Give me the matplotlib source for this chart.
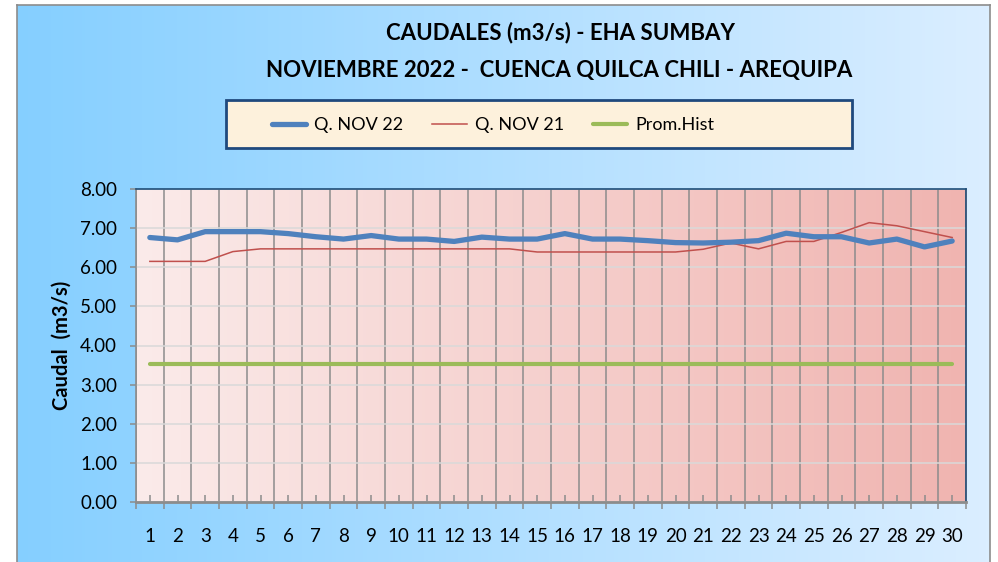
import numpy as np
import matplotlib
matplotlib.use("Agg")
import matplotlib.pyplot as plt
from matplotlib.patches import Rectangle

plt.rcParams['font.family'] = ['Lato', 'DejaVu Sans']

days = list(range(1, 31))
q_nov22 = [6.76, 6.70, 6.91, 6.91, 6.91, 6.86, 6.78, 6.72, 6.81, 6.72,
           6.72, 6.66, 6.77, 6.72, 6.72, 6.86, 6.72, 6.72, 6.68, 6.63,
           6.62, 6.64, 6.68, 6.87, 6.78, 6.78, 6.62, 6.72, 6.52, 6.67]
q_nov21 = [6.15, 6.15, 6.15, 6.40, 6.47, 6.47, 6.47, 6.47, 6.47, 6.47,
           6.47, 6.47, 6.47, 6.47, 6.39, 6.39, 6.39, 6.39, 6.39, 6.39,
           6.46, 6.62, 6.47, 6.66, 6.66, 6.89, 7.14, 7.06, 6.91, 6.76]
prom_hist = [3.53] * 30
yticks = [0, 1, 2, 3, 4, 5, 6, 7, 8]

W, H = 998, 562
fig = plt.figure(figsize=(W / 100, H / 100), dpi=100)
fig.patch.set_facecolor('white')

# chart area background gradient
bg = fig.add_axes([17 / W, 0, (990 - 17) / W, 1 - 5 / H], zorder=-5)
grad = np.linspace(0, 1, 256)
c0 = np.array([133, 207, 255]) / 255
c1 = np.array([219, 238, 255]) / 255
img = c0[None, None, :] * (1 - grad[None, :, None]) + c1[None, None, :] * grad[None, :, None]
bg.imshow(img, aspect='auto', extent=[0, 1, 0, 1])
bg.set_xlim(0, 1); bg.set_ylim(0, 1)
bg.set_xticks([]); bg.set_yticks([])
for s in ['left', 'top', 'right']:
    bg.spines[s].set_color('#8c8c8c')
    bg.spines[s].set_linewidth(1.2)
bg.spines['bottom'].set_visible(False)

# main axes
L, R, T, B = 136, 966, 189, 502
ax = fig.add_axes([L / W, 1 - B / H, (R - L) / W, (B - T) / H])
p0 = np.array([251, 235, 234]) / 255
p1 = np.array([240, 180, 176]) / 255
pimg = p0[None, None, :] * (1 - grad[None, :, None]) + p1[None, None, :] * grad[None, :, None]
ax.imshow(pimg, aspect='auto', extent=[0, 1, 0, 1], transform=ax.transAxes, zorder=0)

ax.plot(days, prom_hist, color='#9BBB59', lw=3.0, label='Prom.Hist', zorder=3, solid_capstyle='round')
ax.plot(days, q_nov21, color='#C0504D', lw=1.1, label='Q. NOV 21', zorder=4)
ax.plot(days, q_nov22, color='#4F81BD', lw=3.8, label='Q. NOV 22', zorder=5, solid_capstyle='round')

ax.set_xlim(0.5, 30.5)
ax.set_ylim(0, 8)
ax.set_yticks(yticks)
ax.set_yticklabels([f'{v:.2f}' for v in yticks], fontsize=13.5)
ax.set_xticks(np.arange(0.5, 31, 1))
ax.set_xticklabels([])
ax.set_xticks(days, minor=True)
ax.set_xticklabels([str(d) for d in days], minor=True, fontsize=13.5)
ax.tick_params(axis='x', which='major', direction='out', length=5, color='#8c8c8c', width=1.1)
ax.tick_params(axis='x', which='minor', direction='in', length=5, color='#8c8c8c', width=1.1, pad=19)
ax.tick_params(axis='y', direction='out', length=4.5, color='#8c8c8c', width=1.1, pad=9)
ax.grid(axis='x', which='major', color='#8c8c8c', lw=1.1, zorder=1)
ax.grid(axis='y', color='#d9d9d9', lw=1.1, zorder=1)
ax.set_axisbelow(True)
for s in ['left', 'bottom']:
    ax.spines[s].set_color('#8c8c8c')
ax.spines['left'].set_linewidth(1.2)
ax.spines['bottom'].set_linewidth(2.0)
for s in ['top', 'right']:
    ax.spines[s].set_color('#1F4E79')
    ax.spines[s].set_linewidth(1.2)
ax.set_ylabel('Caudal  (m3/s)', fontsize=14.5, fontweight='bold', labelpad=6)

fig.text(560 / W, 1 - 33 / H, 'CAUDALES (m3/s) - EHA SUMBAY', ha='center', va='center',
         fontsize=16, fontweight='bold')
fig.text(559 / W, 1 - 70 / H, 'NOVIEMBRE 2022 -  CUENCA QUILCA CHILI - AREQUIPA', ha='center',
         va='center', fontsize=16, fontweight='bold')

# legend box
fig.patches.append(Rectangle((226 / W, 1 - 148 / H), (852 - 226) / W, 48 / H,
                             transform=fig.transFigure, facecolor='#FDF1DC',
                             edgecolor='#1F497D', lw=2.0, zorder=-1))
handles, labels = ax.get_legend_handles_labels()
order = [2, 1, 0]
leg = fig.legend([handles[i] for i in order], [labels[i] for i in order],
                 loc='center left', bbox_to_anchor=(272 / W, 1 - 125 / H),
                 ncol=3, fontsize=13, frameon=False, handlelength=1.9,
                 handletextpad=0.45, columnspacing=1.6, borderaxespad=0, borderpad=0)

fig.savefig('out.png', dpi=100)
